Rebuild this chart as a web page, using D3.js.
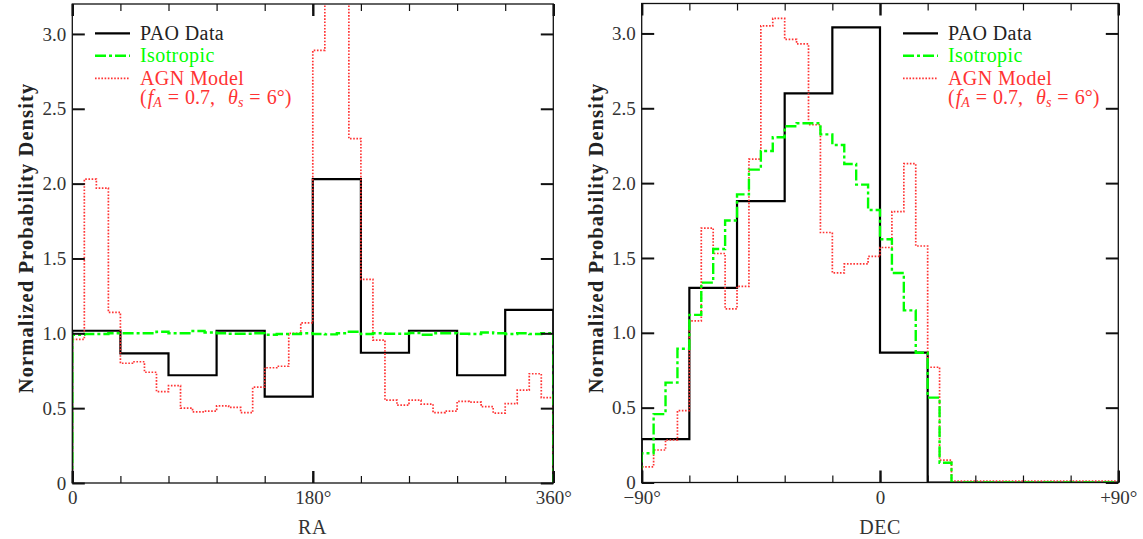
<!DOCTYPE html>
<html><head><meta charset="utf-8">
<script src="https://cdn.jsdelivr.net/npm/d3@7/dist/d3.min.js"></script>
<style>
body{margin:0;background:#fff;}
svg{display:block;}
svg text{font-family:"Liberation Serif","DejaVu Serif","Noto Serif","Times New Roman",Times,serif;}
</style></head>
<body><svg id="c" width="1143" height="539"></svg>
<script>
// ---------- DATA ----------
const seriesNames = ["PAO Data", "Isotropic", "AGN Model"];
const raDomain = [0, 360];
const decDomain = [-90, 90];
const yDomain = [0, 3.2];
const yTicks = [0, 0.5, 1.0, 1.5, 2.0, 2.5, 3.0];
const raMinorTicks = [0, 36, 72, 108, 144, 180, 216, 252, 288, 324, 360];
const raMajorTicks = [0, 180, 360];
const raTickLabels = ["0", "180°", "360°"];
const decMinorTicks = [-90, -72, -54, -36, -18, 0, 18, 36, 54, 72, 90];
const decMajorTicks = [-90, 0, 90];
const decTickLabels = ["−90°", "0", "+90°"];

// RA histograms (PAO: 36° bins, models: 9° bins)
const raPAO = [1.017, 0.866, 0.72, 1.017, 0.577, 2.03, 0.87, 1.017, 0.72, 1.156];
const raIso = [0.99, 0.995, 0.995, 1.0, 1.0, 1.0, 1.0, 1.01, 1.0, 1.0,
               1.015, 1.005, 1.0, 0.997, 0.997, 1.0, 0.99, 0.995, 0.995, 1.0,
               0.995, 0.993, 1.0, 1.01, 0.995, 1.0, 0.997, 0.997, 1.002, 0.99,
               1.0, 1.0, 0.997, 0.995, 1.005, 1.0, 0.995, 1.0, 0.995, 1.0];
const raAGN = [0.96, 2.03, 1.97, 1.14, 0.80, 0.81, 0.74, 0.61, 0.65, 0.50,
               0.475, 0.48, 0.515, 0.505, 0.47, 0.64, 0.77, 0.78, 1.00, 1.07,
               2.89, 3.5, 3.4, 2.30, 1.36, 0.955, 0.553, 0.52, 0.553, 0.527,
               0.47, 0.48, 0.545, 0.54, 0.51, 0.467, 0.53, 0.62, 0.73, 0.57];

// DEC histograms (PAO: 18° bins, models: 4.5° bins)
const decPAO = [0.29, 1.30, 1.88, 2.60, 3.04, 0.867, 0, 0, 0, 0];
const decIso = [0.195, 0.457, 0.667, 0.894, 1.12, 1.335, 1.56, 1.75, 1.925, 2.09,
                2.215, 2.306, 2.38, 2.40, 2.40, 2.326, 2.255, 2.128, 1.99, 1.82,
                1.625, 1.40, 1.15, 0.867, 0.567, 0.132, 0, 0, 0, 0,
                0, 0, 0, 0, 0, 0, 0, 0, 0, 0];
const decAGN = [0.105, 0.217, 0.284, 0.48, 1.08, 1.70, 1.53, 1.16, 1.31, 2.16,
                3.05, 3.10, 2.96, 2.93, 2.39, 1.67, 1.40, 1.46, 1.46, 1.51,
                1.57, 1.81, 2.13, 1.58, 0.77, 0.15, 0.01, 0.01, 0.01, 0.01,
                0.01, 0.01, 0.01, 0.01, 0.01, 0.01, 0.01, 0.01, 0.01, 0.01];

// ---------- STYLE ----------
const FONT = "'Liberation Serif','DejaVu Serif','Noto Serif','Times New Roman',Times,serif";
const C_BLACK = "#000", C_GREEN = "#00ff00", C_RED = "#ff3333";
const svg = d3.select("#c");

const panels = [
  {id:"ra", x0:72.3, x1:553.3, y0:483, y1:4, dom:raDomain, minor:raMinorTicks, major:raMajorTicks,
   labels:raTickLabels, pao:raPAO, iso:raIso, agn:raAGN, title:"RA", titleX:312.5, legX:95, ytitleX:33},
  {id:"dec", x0:641.7, x1:1118.3, y0:482.5, y1:3.5, dom:decDomain, minor:decMinorTicks, major:decMajorTicks,
   labels:decTickLabels, pao:decPAO, iso:decIso, agn:decAGN, title:"DEC", titleX:880, legX:903, ytitleX:602.5}
];

function stepPoints(vals, x){
  const [a,b] = x.domain();
  const n = vals.length, w = (b-a)/n;
  const pts = [[a,0]];
  vals.forEach((v,i)=>pts.push([a+i*w, v]));
  pts.push([b, vals[n-1]]);
  pts.push([b, 0]);
  return pts;
}

panels.forEach(p=>{
  const x = d3.scaleLinear().domain(p.dom).range([p.x0, p.x1]);
  const y = d3.scaleLinear().domain(yDomain).range([p.y0, p.y1]);
  const g = svg.append("g").attr("font-family", FONT);
  const clipId = "clip-"+p.id;
  svg.append("clipPath").attr("id", clipId).append("rect")
    .attr("x", p.x0).attr("y", y(yDomain[1])).attr("width", p.x1-p.x0).attr("height", p.y0-y(yDomain[1]));

  const line = d3.line().x(d=>x(d[0])).y(d=>y(d[1])).curve(d3.curveStepAfter);
  const hg = g.append("g").attr("clip-path", `url(#${clipId})`);
  hg.append("path").attr("d", line(stepPoints(p.pao, x))).attr("fill","none")
    .attr("stroke", C_BLACK).attr("stroke-width", 2.2);
  hg.append("path").attr("d", line(stepPoints(p.agn, x))).attr("fill","none")
    .attr("stroke", C_RED).attr("stroke-width", 1.7).attr("stroke-dasharray","1.6,1.6");
  hg.append("path").attr("d", line(stepPoints(p.iso, x))).attr("fill","none")
    .attr("stroke", C_GREEN).attr("stroke-width", 2.4).attr("stroke-dasharray","11,3,3,3");

  // frame
  g.append("rect").attr("x", p.x0).attr("y", y(yDomain[1])).attr("width", p.x1-p.x0)
    .attr("height", p.y0-y(yDomain[1])).attr("fill","none").attr("stroke","#111").attr("stroke-width",1.3);

  // axes
  const fmtY = d => d===0 ? "0" : d3.format(".1f")(d);
  const yl = g.append("g").attr("transform",`translate(${p.x0},0)`)
    .call(d3.axisLeft(y).tickValues(yTicks).tickSizeInner(-12.5).tickSizeOuter(0).tickPadding(6).tickFormat(fmtY));
  const yr = g.append("g").attr("transform",`translate(${p.x1},0)`)
    .call(d3.axisRight(y).tickValues(yTicks).tickSizeInner(-12.5).tickSizeOuter(0).tickFormat(""));
  const xb = g.append("g").attr("transform",`translate(0,${p.y0})`)
    .call(d3.axisBottom(x).tickValues(p.minor).tickSizeInner(-7).tickSizeOuter(0).tickFormat(""));
  const xt = g.append("g").attr("transform",`translate(0,${y(yDomain[1])})`)
    .call(d3.axisTop(x).tickValues(p.minor).tickSizeInner(-7).tickSizeOuter(0).tickFormat(""));
  const xbM = g.append("g").attr("transform",`translate(0,${p.y0})`)
    .call(d3.axisBottom(x).tickValues(p.major).tickSizeInner(-12).tickSizeOuter(0).tickPadding(8)
      .tickFormat((d,i)=>p.labels[i]));
  const xtM = g.append("g").attr("transform",`translate(0,${y(yDomain[1])})`)
    .call(d3.axisTop(x).tickValues(p.major).tickSizeInner(-12).tickSizeOuter(0).tickFormat(""));
  [yl,yr,xb,xt,xbM,xtM].forEach(a=>{
    a.attr("font-family", FONT);
    a.select(".domain").remove();
    a.selectAll("text").attr("font-family", FONT).attr("font-size",19).attr("fill","#333");
  });
  [yl,yr].forEach(a=>a.selectAll("line").attr("stroke","#111").attr("stroke-width",2));
  [xb,xt].forEach(a=>a.selectAll("line").attr("stroke","#111").attr("stroke-width",1.2));
  [xbM,xtM].forEach(a=>a.selectAll("line").attr("stroke","#111").attr("stroke-width",2.4));

  // axis titles
  g.append("text").attr("x", p.titleX).attr("y", 534).attr("text-anchor","middle")
    .attr("font-size",20).attr("fill","#333").attr("letter-spacing",0.5).text(p.title);
  g.append("text").attr("transform",`translate(${p.ytitleX},238) rotate(-90)`).attr("text-anchor","middle")
    .attr("font-size",20.5).attr("font-weight","bold").attr("letter-spacing",1.1).attr("fill","#222")
    .text("Normalized Probability Density");

  // legend
  const lg = g.append("g");
  const rows = [
    {name:seriesNames[0], c:C_BLACK, w:2.2, dash:null, tc:"#222"},
    {name:seriesNames[1], c:C_GREEN, w:2.4, dash:"11,3,3,3", tc:C_GREEN},
    {name:seriesNames[2], c:C_RED, w:1.7, dash:"1.6,1.6", tc:C_RED}
  ];
  rows.forEach((r,i)=>{
    const ly = 33.3 + i*22.5;
    lg.append("line").attr("x1",p.legX).attr("x2",p.legX+35).attr("y1",ly).attr("y2",ly)
      .attr("stroke",r.c).attr("stroke-width",r.w).attr("stroke-dasharray",r.dash);
    lg.append("text").attr("x",p.legX+45).attr("y",ly+6.5).attr("font-size",20)
      .attr("letter-spacing",0.4).attr("fill",r.tc).text(r.name);
  });
  const t = lg.append("text").attr("x",p.legX+45).attr("y",103.5).attr("font-size",20).attr("fill",C_RED);
  t.append("tspan").text("(");
  t.append("tspan").attr("font-style","italic").attr("dx",1).text("f");
  t.append("tspan").attr("font-size",14).attr("dy",3.5).attr("font-style","italic").text("A");
  t.append("tspan").attr("dy",-3.5).attr("dx",6).text("=");
  t.append("tspan").attr("dx",6).text("0.7,");
  t.append("tspan").attr("dx",13).attr("font-style","italic").text("θ");
  t.append("tspan").attr("font-size",14).attr("dy",3.5).attr("font-style","italic").text("s");
  t.append("tspan").attr("dy",-3.5).attr("dx",6).text("=");
  t.append("tspan").attr("dx",6).text("6°)");
});
</script>
</body></html>
